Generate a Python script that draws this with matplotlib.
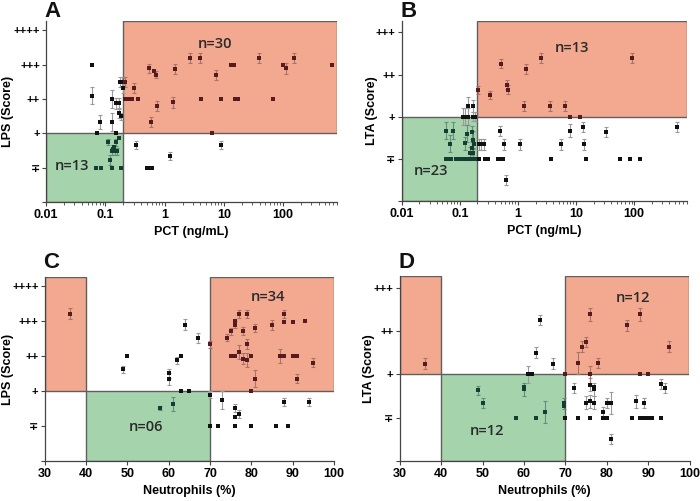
import matplotlib
matplotlib.use('Agg')
import matplotlib.pyplot as plt
from matplotlib.patches import Rectangle
import numpy as np

plt.rcParams['font.family'] = ['Liberation Sans', 'DejaVu Sans']

# ---- Panel A: LPS score vs PCT ----
a_x = [0.213, 0.305, 0.21, 0.25, 0.28, 0.35, 0.55, 0.67, 0.70, 0.73, 0.58, 1.51, 1.4, 2.7, 3.93, 4.13,
       6.2, 7.4, 8.95, 13.0, 14.6, 15.4, 17.5, 38.5, 67, 100, 111, 153, 676,
       0.059, 0.059, 0.08, 0.071, 0.13, 0.13, 0.15, 0.17, 0.15, 0.17, 0.18, 0.173, 0.187, 0.197,
       0.33, 8.95, 1.21, 0.5, 0.55, 0.6,
       0.11, 0.15, 0.17, 0.14, 0.135, 0.13, 0.145, 0.155, 0.12, 0.07, 0.085, 0.13, 0.18]
a_y = [3.5, 3.32, 3.0, 3.0, 3.0, 3.0, 3.89, 3.8, 3.7, 2.79, 2.33, 3.87, 2.9, 4.2, 4.2, 3.0,
       2.0, 3.7, 3.0, 4.0, 4.0, 3.0, 3.0, 4.2, 3.0, 4.0, 3.89, 4.2, 4.0,
       4.0, 3.09, 2.33, 2.0, 3.0, 2.33, 2.87, 2.87, 2.0, 2.59, 2.49, 3.5, 3.5, 3.32,
       1.66, 1.66, 1.33, 1.0, 1.0, 1.0,
       1.74, 1.74, 1.86, 1.6, 1.55, 1.47, 1.47, 1.47, 1.23, 1.0, 1.0, 1.0, 1.0]
a_err = [0.15, 0.15, 0, 0, 0, 0, 0.12, 0, 0.1, 0.15, 0.15, 0.15, 0.15, 0.15, 0.15, 0,
         0, 0.15, 0, 0, 0, 0, 0, 0.15, 0, 0, 0.15, 0.15, 0,
         0, 0.25, 0.2, 0, 0.25, 0.25, 0.15, 0.15, 0, 0.15, 0.1, 0.15, 0.15, 0.15,
         0.12, 0.12, 0.12, 0, 0, 0,
         0.08, 0.1, 0, 0, 0.1, 0.1, 0.1, 0.1, 0.15, 0, 0, 0, 0]

# ---- Panel B: LTA score vs PCT ----
b_x = [0.205, 0.33, 0.51, 0.65, 0.67, 1.28, 1.38, 2.44, 3.5, 6.5, 91, 7.9, 11.6,
       0.113, 0.124, 0.14, 0.165, 0.14, 0.17, 0.185,
       0.057, 0.077, 0.067, 0.164, 0.124, 0.15, 0.165, 0.16, 0.13, 0.17, 0.175,
       0.057, 0.063, 0.069, 0.084, 0.102, 0.113, 0.124, 0.14, 0.155, 0.17, 0.185,
       0.21, 0.235, 0.26, 0.49, 0.57, 1.08, 0.62, 5.5, 7.9, 12.9, 13.4, 33, 550,
       0.21, 0.275, 0.305, 0.46, 0.51, 0.56, 3.68, 15, 57, 83, 126]
b_y = [2.63, 2.51, 3.26, 2.76, 2.64, 2.25, 3.14, 3.4, 2.25, 2.25, 3.39, 2.0, 2.0,
       2.0, 2.0, 2.0, 2.0, 2.25, 2.25, 2.0,
       1.67, 1.67, 1.36, 1.63, 1.37, 1.13, 1.13, 1.25, 1.6, 1.45, 1.35,
       1.0, 1.0, 1.0, 1.0, 1.0, 1.0, 1.0, 1.0, 1.0, 1.0, 1.0,
       1.34, 1.34, 1.34, 1.66, 1.34, 1.34, 0.5, 1.34, 1.67, 1.75, 1.34, 1.63, 1.75,
       1.0, 1.0, 1.0, 1.0, 1.0, 1.0, 1.0, 1.0, 1.0, 1.0, 1.0]
b_err = [0.1, 0.1, 0.1, 0.1, 0.1, 0.12, 0.12, 0.12, 0.12, 0.12, 0.12, 0, 0,
         0.2, 0.2, 0.2, 0.1, 0.22, 0.15, 0.1,
         0.2, 0.2, 0.2, 0.15, 0.15, 0.15, 0.1, 0.15, 0.2, 0.2, 0,
         0, 0, 0, 0, 0, 0, 0, 0, 0, 0, 0,
         0.12, 0.12, 0.12, 0.12, 0.12, 0.12, 0.12, 0.12, 0.15, 0.12, 0.12, 0.12, 0.12,
         0, 0, 0, 0, 0, 0, 0, 0, 0, 0, 0]

# ---- Panel C: LPS score vs neutrophils ----
c_x = [36,
       49, 50, 60, 60, 62, 63, 64, 67, 63, 65,
       70, 74, 75, 76, 76, 77, 79, 78, 81, 79, 77, 75, 76, 78, 79, 80, 81, 80, 85, 88, 88, 90, 93,
       87, 88, 90, 91, 91, 95,
       70, 73, 76, 76, 77, 88, 94, 70, 72, 76, 80, 86, 89,
       58, 61]
c_y = [4.22,
       2.63, 3.0, 2.51, 2.35, 2.89, 3.0, 3.91, 3.52, 2.0, 2.0,
       3.35, 3.53, 3.72, 3.9, 4.0, 4.22, 4.22, 3.72, 3.81, 3.35, 3.12, 3.0, 3.0, 2.93, 2.89, 3.0, 2.36, 2.0,
       3.89, 4.22, 3.98, 3.98, 4.0,
       3.0, 3.0, 3.0, 3.0, 2.36, 2.82,
       1.89, 1.75, 1.52, 1.26, 1.35, 1.69, 1.69, 1.0, 1.0, 1.0, 1.0, 1.0, 1.0,
       1.51, 1.64]
c_err = [0.15,
         0.1, 0, 0.12, 0.18, 0.1, 0, 0.15, 0.15, 0, 0,
         0.1, 0.1, 0.1, 0.1, 0, 0.12, 0.12, 0.12, 0.12, 0.15, 0.2, 0, 0, 0.15, 0.2, 0, 0.25, 0,
         0.15, 0.12, 0, 0, 0,
         0.2, 0, 0, 0, 0.12, 0.12,
         0.1, 0.25, 0.12, 0, 0.12, 0.12, 0.12, 0, 0, 0, 0, 0, 0,
         0.05, 0.2]

# ---- Panel D: LTA score vs neutrophils ----
d_x = [36,
       64, 63, 67, 61, 61.5, 62,
       76, 88, 85, 75, 74, 73, 78, 95, 76, 88, 90, 70,
       72, 76, 77, 77, 75, 76, 77, 73, 76, 79, 79, 80, 80, 81, 81, 87, 89, 93, 94,
       86, 88, 89, 90, 91, 93, 70,
       49, 50, 60, 60, 58, 63, 65, 69.8, 69.8]
d_y = [2.25,
       3.26, 2.5, 2.25, 2.0, 2.0, 2.0,
       3.39, 3.39, 3.13, 2.75, 2.64, 2.26, 2.26, 2.64, 2.0, 2.0, 2.0, 2.0,
       1.68, 1.76, 1.65, 1.7, 1.34, 1.38, 1.34, 1.0, 1.0, 1.13, 1.0, 1.0, 1.34, 1.34, 0.51, 1.38, 1.34, 1.78, 1.69,
       1.0, 1.0, 1.0, 1.0, 1.0, 1.0, 1.0,
       1.63, 1.34, 1.65, 1.7, 1.0, 1.0, 1.13, 1.33, 1.28]
d_err = [0.12,
         0.12, 0.12, 0.12, 0.2, 0, 0,
         0.15, 0.15, 0.12, 0.12, 0.12, 0.25, 0.12, 0.12, 0.2, 0, 0, 0,
         0.12, 0.15, 0.15, 0, 0.15, 0.15, 0.15, 0, 0, 0.12, 0, 0, 0.12, 0.25, 0.12, 0.15, 0.12, 0.12, 0.12,
         0, 0, 0, 0, 0, 0, 0,
         0.1, 0.12, 0.15, 0, 0, 0, 0.25, 0.12, 0]

lps_labels = ['', '\u2213', '+', '++', '+++', '++++']
lta_labels = ['', '\u2213', '+', '++', '+++']

ORANGE = '#f3a98f'
GREEN = '#a5d4ac'
EDGE = '#5f5f5f'
# marker / error-bar colours for points in orange, green and white areas
PT = {'o': '#571a1e', 'g': '#173d32', 'w': '#111111'}
EB = {'o': '#a77468', 'g': '#5e8f78', 'w': '#9a9a9a'}


def draw_points(ax, x, y, err, region):
    x = np.array(x)
    y = np.array(y)
    err = np.array(err)
    cls = np.array([region(xi, yi) for xi, yi in zip(x, y)])
    for c in ['w', 'o', 'g']:
        m = cls == c
        e = m & (err > 0)
        ax.errorbar(x[e], y[e], yerr=err[e], fmt='none', ecolor=EB[c],
                    elinewidth=0.8, capsize=1.6, capthick=0.8, zorder=2)
        ax.plot(x[m], y[m], 's', color=PT[c], ms=3.4, mew=0, zorder=3)


def style_axes(ax, ylabels, ylabel, xlabel, ylab_x):
    ax.set_ylim(0, len(ylabels) - 1 + 0.27)
    ax.set_yticks(range(len(ylabels)))
    ax.set_yticklabels(ylabels)
    ax.set_ylabel(ylabel, fontsize=9, fontweight='bold')
    ax.yaxis.set_label_coords(ylab_x, 0.5)
    ax.set_xlabel(xlabel, fontsize=9, fontweight='bold', labelpad=4)
    ax.spines['top'].set_visible(False)
    ax.spines['right'].set_visible(False)
    for s in ['left', 'bottom']:
        ax.spines[s].set_color('#444444')
        ax.spines[s].set_linewidth(0.9)
    ax.tick_params(axis='both', which='major', length=3, width=0.8, labelsize=9, pad=2, color='#444444')
    ax.tick_params(axis='y', which='major', labelsize=8, pad=1.5)
    ax.tick_params(axis='both', which='minor', length=1.8, width=0.6, color='#444444')
    for lab in ax.get_xticklabels() + ax.get_yticklabels():
        lab.set_fontweight('bold')


def nlabel(ax, x, y, s):
    ax.text(x, y, s, fontsize=10.5, family=['Open Sans', 'DejaVu Sans'], fontweight='semibold',
            color='#2a2a2a', ha='center', va='center', zorder=4)


fig = plt.figure(figsize=(7.0, 5.01), dpi=100)

# --- A / B: PCT panels ---
pct_region = lambda xv, yv: 'o' if (xv >= 0.2 and yv >= 2) else ('g' if (xv < 0.2 and yv < 2) else 'w')
xmin, xmax = 0.01, 800
for pos, x, y, err, ylabels, ylabel, letter, ntop, nbot, ylx in [
        ([0.066, 0.597, 0.415, 0.361], a_x, a_y, a_err, lps_labels, 'LPS (Score)', 'A',
         (7, 4.59, 'n=30'), (0.027, 1.04, 'n=13'), -0.112),
        ([0.574, 0.599, 0.407, 0.359], b_x, b_y, b_err, lta_labels, 'LTA (Score)', 'B',
         (8.4, 3.63, 'n=13'), (0.032, 0.71, 'n=23'), -0.085)]:
    ax = fig.add_axes(pos)
    ax.set_xscale('log')
    ax.set_xlim(xmin, xmax)
    ytop = len(ylabels) - 1 + 0.27
    ax.add_patch(Rectangle((0.2, 2), xmax - 0.2, ytop - 2, facecolor=ORANGE, edgecolor=EDGE, lw=1, zorder=0))
    ax.add_patch(Rectangle((xmin, 0), 0.2 - xmin, 2, facecolor=GREEN, edgecolor=EDGE, lw=1, zorder=0))
    draw_points(ax, x, y, err, pct_region)
    ax.set_xticks([0.01, 0.1, 1, 10, 100])
    ax.set_xticklabels(['0.01', '0.1', '1', '10', '100'])
    style_axes(ax, ylabels, ylabel, 'PCT (ng/mL)', ylx)
    nlabel(ax, *ntop)
    nlabel(ax, *nbot)
    fig.text(pos[0] - 0.002, 0.998, letter, fontsize=16, fontweight='bold',
             ha='left', va='top', color='#111111')

# --- C / D: neutrophil panels ---
neu_region = lambda xv, yv: 'o' if (yv >= 2 and (xv >= 70 or xv < 40)) else \
    ('g' if (40 <= xv < 70 and yv < 2) else 'w')
for pos, x, y, err, ylabels, ylabel, letter, ntop, nbot, ylx in [
        ([0.064, 0.080, 0.413, 0.367], c_x, c_y, c_err, lps_labels, 'LPS (Score)', 'C',
         (84.1, 4.69, 'n=34'), (54.6, 0.97, 'n=06'), -0.108),
        ([0.571, 0.080, 0.414, 0.369], d_x, d_y, d_err, lta_labels, 'LTA (Score)', 'D',
         (86.3, 3.77, 'n=12'), (51.1, 0.7, 'n=12'), -0.086)]:
    ax = fig.add_axes(pos)
    ax.set_xlim(30, 100)
    ytop = len(ylabels) - 1 + 0.27
    ax.add_patch(Rectangle((30, 2), 10, ytop - 2, facecolor=ORANGE, edgecolor=EDGE, lw=1, zorder=0))
    ax.add_patch(Rectangle((70, 2), 30, ytop - 2, facecolor=ORANGE, edgecolor=EDGE, lw=1, zorder=0))
    ax.add_patch(Rectangle((40, 0), 30, 2, facecolor=GREEN, edgecolor=EDGE, lw=1, zorder=0))
    draw_points(ax, x, y, err, neu_region)
    ax.set_xticks(range(30, 101, 10))
    style_axes(ax, ylabels, ylabel, 'Neutrophils (%)', ylx)
    nlabel(ax, *ntop)
    nlabel(ax, *nbot)
    fig.text(pos[0] - 0.002, 0.498, letter, fontsize=16, fontweight='bold',
             ha='left', va='top', color='#111111')

fig.savefig('out.png', dpi=100)
